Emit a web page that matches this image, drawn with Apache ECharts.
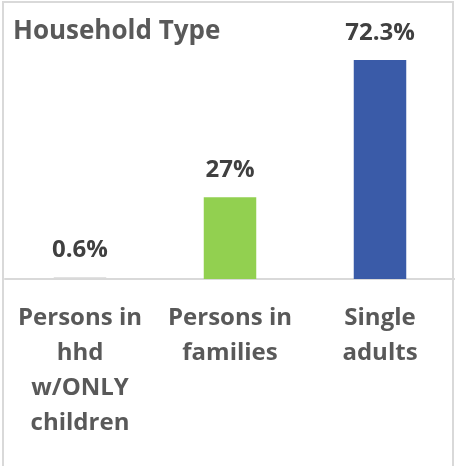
<!DOCTYPE html>
<html><head><meta charset="utf-8">
<script src="https://cdn.jsdelivr.net/npm/echarts@6/dist/echarts.min.js"></script>
<style>html,body{margin:0;padding:0;background:#fff}#c{width:455px;height:466px}</style>
</head><body><div id="c"></div>
<script>
const categories = ['Persons in\nhhd\nw/ONLY\nchildren', 'Persons in\nfamilies', 'Single\nadults'];
const values = [0.6, 27, 72.3];
const labels = ['0.6%', '27%', '72.3%'];
const colors = ['#D9D9D9', '#92D050', '#3A5BA8'];
const title = 'Household Type';

const chart = echarts.init(document.getElementById('c'), null, {renderer: 'canvas'});
const FONT = '"Open Sans", sans-serif';
chart.setOption({
  animation: false,
  backgroundColor: '#fff',
  title: {text: title, left: 8, top: 14, textStyle: {fontFamily: FONT, fontSize: 26, fontWeight: 'bold', color: '#595959'}},
  graphic: [{type: 'rect', shape: {x: 3, y: 2, width: 450, height: 470}, style: {fill: 'none', stroke: '#D9D9D9', lineWidth: 2}, silent: true}],
  grid: {left: 5, right: 0, top: 60, bottom: 187, containLabel: false},
  xAxis: {
    type: 'category', data: categories,
    axisLine: {lineStyle: {color: '#D9D9D9', width: 2}},
    axisTick: {show: false},
    axisLabel: {interval: 0, margin: 22, lineHeight: 35, fontFamily: FONT, fontSize: 24, fontWeight: 'bold', color: '#595959'}
  },
  yAxis: {type: 'value', min: 0, max: 72.3, show: false, splitLine: {show: false}},
  series: [{
    type: 'bar', barWidth: '35%',
    data: values.map((v, i) => ({value: v, itemStyle: {color: colors[i]}, label: {formatter: labels[i]}})),
    label: {show: true, position: 'top', distance: 15, fontFamily: FONT, fontSize: 24, fontWeight: 'bold', color: '#404040'}
  }]
});
</script></body></html>
